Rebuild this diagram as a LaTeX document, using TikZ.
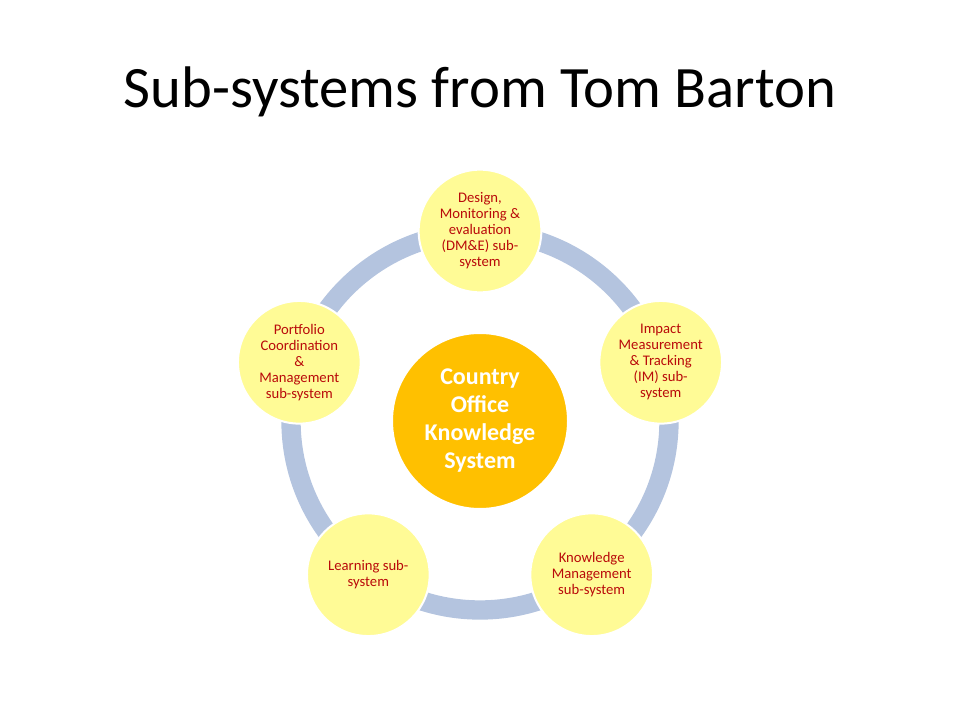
\documentclass[tikz,border=0pt]{standalone}
\usepackage{fontspec}
\setmainfont{Carlito}
\usepackage{xcolor}
\usepackage{tikz}
\usetikzlibrary{calc}

\definecolor{ringblue}{RGB}{180,196,223}
\definecolor{subyellow}{RGB}{255,251,150}
\definecolor{hubgold}{RGB}{255,192,0}
\definecolor{subred}{RGB}{185,10,10}

\begin{document}
\begin{tikzpicture}[x=0.75pt,y=-0.75pt,
	hub/.style={circle,fill=hubgold,draw=white,line width=1.5pt,minimum size=132pt,inner sep=0pt,
		align=center,text=white,font=\fontsize{18}{21}\selectfont\bfseries},
	sub/.style={circle,fill=subyellow,draw=white,line width=1.5pt,minimum size=92pt,inner sep=0pt,
		align=center,text=subred,font=\fontsize{11}{12}\selectfont},
	ring/.style={ringblue,line width=14.5pt}]
			\useasboundingbox (0,0) rectangle (960,720);
			% Tiêu đề
			\node (title) at (480,92) {\fontsize{44}{53}\selectfont Sub-systems from Tom Barton};
			% Vòng tròn (trục y hướng xuống, nên góc đổi dấu)
			\node[hub] (hub) at (480,421) {Country\\Office\\Knowledge\\System};
			\draw [ring] (hub.center) circle (189);
			\foreach \a/\t [count=\i] in {-90/{Design,\\Monitoring \&\\evaluation\\(DM\&E) sub-\\system},
				-18/{Impact\\Measurement\\\& Tracking\\(IM) sub-\\system},
				54/{Knowledge\\Management\\sub-system},
				126/{Learning sub-\\system},
				198/{Portfolio\\Coordination\\\&\\Management\\sub-system}}
			\node[sub] (sub\i) at ($(hub.center)+(\a:190)$) {\t};
		\end{tikzpicture}
\end{document}
